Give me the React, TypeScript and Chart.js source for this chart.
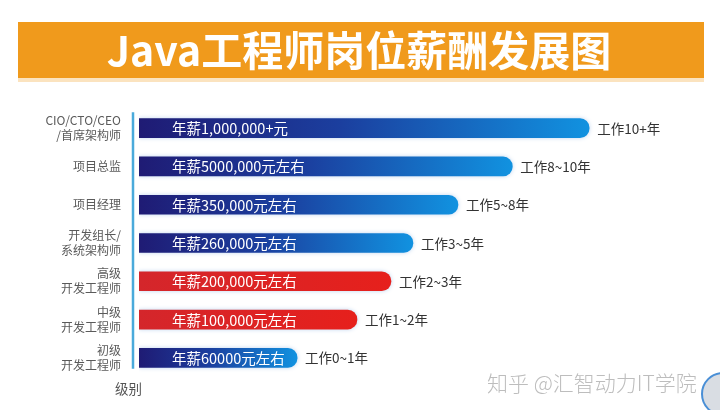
import React, { useEffect, useRef } from "react";
import { Chart, registerables } from "chart.js";

Chart.register(...registerables);

const titleText = "Java工程师岗位薪酬发展图";
const categories: (string | string[])[] = [
  ["CIO/CTO/CEO", "/首席架构师"],
  "项目总监",
  "项目经理",
  ["开发组长/", "系统架构师"],
  ["高级", "开发工程师"],
  ["中级", "开发工程师"],
  ["初级", "开发工程师"],
];
const barLength = [82.0, 68.0, 58.1, 49.9, 45.9, 39.7, 28.8];
const salaryLabels = [
  "年薪1,000,000+元",
  "年薪5000,000元左右",
  "年薪350,000元左右",
  "年薪260,000元左右",
  "年薪200,000元左右",
  "年薪100,000元左右",
  "年薪60000元左右",
];
const experienceLabels = [
  "工作10+年",
  "工作8~10年",
  "工作5~8年",
  "工作3~5年",
  "工作2~3年",
  "工作1~2年",
  "工作0~1年",
];
const colorGroup = ["blue", "blue", "blue", "blue", "red", "red", "blue"];
const axisTitle = "级别";
const watermark = "知乎 @汇智动力IT学院";

const FONT = '"Noto Sans CJK SC", "Noto Sans", sans-serif';

export default function App() {
  const ref = useRef<HTMLCanvasElement | null>(null);

  useEffect(() => {
    if (!ref.current) return;

    const bannerPlugin = {
      id: "banner",
      beforeDraw(chart: any) {
        const c = chart.ctx;
        c.save();
        c.fillStyle = "#ffffff";
        c.fillRect(0, 0, chart.width, chart.height);
        c.fillStyle = "#fbe3bf";
        c.fillRect(18, 78, 686, 4);
        c.fillStyle = "#f09a1c";
        c.fillRect(18, 22, 686, 56);
        c.fillStyle = "#ffffff";
        c.font = `bold 41px ${FONT}`;
        c.textAlign = "center";
        c.textBaseline = "middle";
        c.fillText(titleText, 359, 50);
        c.restore();
      },
    };

    const glowPlugin = {
      id: "glow",
      beforeDatasetsDraw(chart: any) {
        const c = chart.ctx;
        c.save();
        c.shadowColor = "rgba(110,160,220,0.45)";
        c.shadowBlur = 4;
      },
      afterDatasetsDraw(chart: any) {
        chart.ctx.restore();
      },
    };

    const labelPlugin = {
      id: "labels",
      afterDraw(chart: any) {
        const c = chart.ctx;
        const meta = chart.getDatasetMeta(0);
        const ys = chart.scales.y;
        c.save();
        c.strokeStyle = "#4aaadb";
        c.lineWidth = 2.5;
        c.beginPath();
        c.moveTo(133, ys.getPixelForValue(0) - 16);
        c.lineTo(133, ys.getPixelForValue(categories.length - 1) + 11);
        c.stroke();

        meta.data.forEach((bar: any, i: number) => {
          c.textBaseline = "middle";
          c.textAlign = "left";
          c.fillStyle = "#ffffff";
          c.font = `14.5px ${FONT}`;
          c.fillText(salaryLabels[i], bar.base + 33, bar.y + 0.5);
          c.fillStyle = "#333333";
          c.font = `13.5px ${FONT}`;
          c.fillText(experienceLabels[i], bar.x + 8, bar.y + 0.5);
        });

        c.fillStyle = "#555555";
        c.font = `13.5px ${FONT}`;
        c.textAlign = "left";
        c.fillText(axisTitle, 115, 389);

        c.fillStyle = "#bdbdbd";
        c.font = `300 21px ${FONT}`;
        c.fillText(watermark, 487, 383);

        c.beginPath();
        c.arc(723, 394, 21, 0, Math.PI * 2);
        c.fillStyle = "#d9dde3";
        c.fill();
        c.lineWidth = 2;
        c.strokeStyle = "#4a8fd6";
        c.stroke();
        c.restore();
      },
    };

    const bg = (ctx: any) => {
      const chart = ctx.chart;
      const i = ctx.dataIndex;
      const red = colorGroup[i] === "red";
      if (ctx.type !== "data" || !chart.chartArea || !chart.scales.x) {
        return red ? "#e0221f" : "#1a4aa8";
      }
      const xs = chart.scales.x;
      const x0 = xs.getPixelForValue(0);
      const x1 = xs.getPixelForValue(barLength[i]);
      const g = chart.ctx.createLinearGradient(x0, 0, x1, 0);
      if (red) {
        g.addColorStop(0, "#d4262b");
        g.addColorStop(1, "#e6201c");
      } else {
        g.addColorStop(0, "#1f1b74");
        g.addColorStop(0.45, "#1b3f9f");
        g.addColorStop(1, "#1192e0");
      }
      return g;
    };

    const chart = new Chart(ref.current, {
      type: "bar",
      data: {
        labels: categories,
        datasets: [
          {
            data: barLength,
            backgroundColor: bg,
            borderRadius: 10,
            borderSkipped: "start",
            barThickness: 19,
          },
        ],
      },
      options: {
        indexAxis: "y",
        responsive: false,
        animation: false,
        layout: { padding: { left: 0, right: 32, top: 109, bottom: 28.5 } },
        plugins: {
          legend: { display: false },
          tooltip: { enabled: false },
          title: { display: false },
        },
        scales: {
          x: {
            display: false,
            min: 0,
            max: 100,
          },
          y: {
            afterFit: (s: any) => {
              s.width = 139;
            },
            grid: { display: false, drawTicks: false },
            border: { display: false },
            ticks: {
              color: "#5a5a5a",
              padding: 18,
              font: { family: FONT, size: 12, lineHeight: 1.25 },
            },
          },
        },
      },
      plugins: [bannerPlugin, glowPlugin, labelPlugin],
    });

    return () => chart.destroy();
  }, []);

  return (
    <div style={{ position: "fixed", left: 0, top: 0, width: 720, height: 410 }}>
      <canvas ref={ref} width={720} height={410} />
    </div>
  );
}
